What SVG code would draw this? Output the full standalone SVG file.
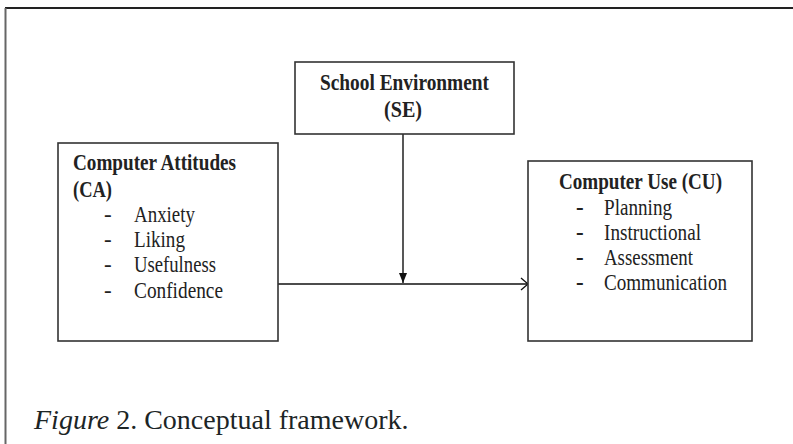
<svg xmlns="http://www.w3.org/2000/svg" width="793" height="444" viewBox="0 0 793 444">
<style>
.box{fill:#fff;stroke:#333;stroke-width:1.6}
.t{font-family:"Liberation Serif","Times New Roman",serif;font-size:23px;fill:#222}
.b{font-weight:bold}
.c{stroke:#111;stroke-width:1.4;fill:none}
.cap{font-family:"Liberation Serif","Times New Roman",serif;font-size:28px;fill:#1c2526}
</style>
<defs>
<marker id="tri" markerWidth="10" markerHeight="12" refX="10" refY="5" orient="auto" markerUnits="userSpaceOnUse" viewBox="0 0 10 10">
<path d="M0,1 L10,5 L0,9 Z" fill="#111"/>
</marker>
<marker id="open" markerWidth="10" markerHeight="14" refX="8" refY="7" orient="auto" markerUnits="userSpaceOnUse" viewBox="0 0 10 14">
<path d="M1,1 L8,7 L1,13" fill="none" stroke="#111" stroke-width="1.3"/>
</marker>
</defs>
<rect width="793" height="444" fill="#fff"/>
<g id="frame">
<line x1="5" y1="8" x2="793" y2="8" stroke="#222" stroke-width="2"/>
<line x1="5.5" y1="8" x2="5.5" y2="444" stroke="#666" stroke-width="2"/>
</g>
<g id="connectors">
<line class="c" x1="278" y1="284" x2="528" y2="284" marker-end="url(#open)"/>
<line class="c" x1="403" y1="134" x2="403" y2="283" marker-end="url(#tri)"/>
</g>
<g id="se">
<rect class="box" x="295" y="62" width="219" height="72"/>
<text class="t b" x="320" y="90" textLength="169" lengthAdjust="spacingAndGlyphs">School Environment</text>
<text class="t b" x="384" y="117" textLength="38" lengthAdjust="spacingAndGlyphs">(SE)</text>
</g>
<g id="ca">
<rect class="box" x="58" y="143" width="220" height="198"/>
<text class="t b" x="73" y="170" textLength="163" lengthAdjust="spacingAndGlyphs">Computer Attitudes</text>
<text class="t b" x="73" y="197" textLength="39" lengthAdjust="spacingAndGlyphs">(CA)</text>
<text class="t" x="104" y="222">-</text>
<text class="t" x="134" y="222" textLength="61" lengthAdjust="spacingAndGlyphs">Anxiety</text>
<text class="t" x="104" y="247">-</text>
<text class="t" x="134" y="247" textLength="51" lengthAdjust="spacingAndGlyphs">Liking</text>
<text class="t" x="104" y="272">-</text>
<text class="t" x="134" y="272" textLength="82" lengthAdjust="spacingAndGlyphs">Usefulness</text>
<text class="t" x="104" y="298">-</text>
<text class="t" x="134" y="298" textLength="89" lengthAdjust="spacingAndGlyphs">Confidence</text>
</g>
<g id="cu">
<rect class="box" x="528" y="161" width="224" height="180"/>
<text class="t b" x="559" y="189" textLength="163" lengthAdjust="spacingAndGlyphs">Computer Use (CU)</text>
<text class="t b" x="576" y="215">-</text>
<text class="t" x="604" y="215" textLength="68" lengthAdjust="spacingAndGlyphs">Planning</text>
<text class="t b" x="576" y="240">-</text>
<text class="t" x="604" y="240" textLength="97" lengthAdjust="spacingAndGlyphs">Instructional</text>
<text class="t b" x="576" y="265">-</text>
<text class="t" x="604" y="265" textLength="89" lengthAdjust="spacingAndGlyphs">Assessment</text>
<text class="t b" x="576" y="290">-</text>
<text class="t" x="604" y="290" textLength="123" lengthAdjust="spacingAndGlyphs">Communication</text>
</g>
<g id="caption">
<text class="cap" x="34" y="429"><tspan font-style="italic">Figure</tspan> 2. Conceptual framework.</text>
</g>
</svg>
